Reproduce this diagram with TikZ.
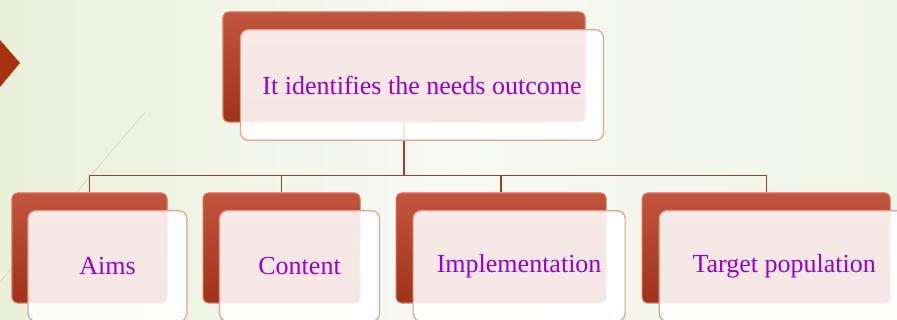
\documentclass[tikz,border=0pt]{standalone}
\usepackage{fontspec}
\setmainfont{Liberation Serif}
\usetikzlibrary{positioning}
\definecolor{boxtop}{HTML}{C2553F}
\definecolor{boxbottom}{HTML}{A0321A}
\definecolor{boxedge}{HTML}{D9705C}
\definecolor{frontedge}{HTML}{DFA292}
\definecolor{linkred}{HTML}{A43C26}
\definecolor{labelpurple}{HTML}{9A00C6}
\definecolor{bgleft}{HTML}{EAF0DA}
\definecolor{bgmid}{HTML}{F8F9F4}
\definecolor{bgright}{HTML}{F1F5E7}
\definecolor{arrowred}{HTML}{A8320F}
\definecolor{streak}{HTML}{D6DBC6}
\tikzset{
	backbox/.style={rounded corners=4pt, draw=boxedge, line width=0.8pt, top color=boxtop, bottom color=boxbottom, minimum height=82.5pt, inner sep=0pt},
	frontbox/.style={rounded corners=6pt, draw=frontedge, line width=0.9pt, fill=white, fill opacity=0.88, text opacity=1, text=labelpurple, minimum height=83pt, inner sep=0pt, font=\fontsize{19.5}{22}\selectfont},
	link/.style={draw=linkred, line width=1pt}
}

\begin{document}
\begin{tikzpicture}[x=0.75pt, y=-0.75pt]
	\useasboundingbox (0,0) rectangle (897,320);
	\clip (0,0) rectangle (897,320);
	%slide background
	\shade[left color=bgleft, right color=bgright, middle color=bgmid] (0,0) rectangle (897,320);
	\fill[arrowred] (0,40) -- (20,63) -- (0,87) -- cycle;
	\draw[streak, line width=0.6pt] (145,112) -- (0,282);

	%red boxes behind
	\node[backbox, minimum width=271.5pt] (outcome) at (404,67) {};
	\node[backbox, minimum width=116.25pt] (aims) at (89.5,248) {};
	\node[backbox, minimum width=117.75pt, right=26.25pt of aims] (content) {};
	\node[backbox, minimum width=157.5pt, right=26.25pt of content] (impl) {};
	\node[backbox, minimum width=186pt, right=26.25pt of impl] (target) {};

	%tree lines
	\draw[link, line width=1.8pt] (outcome.south) -- ++(0,53) coordinate (split);
	\foreach \n in {aims, content, impl, target}
		\draw[link] (split) -| (\n.north);

	%labels on the light boxes
	\foreach \n/\w/\t in {outcome/272.25pt/It identifies the needs outcome, aims/119.25pt/Aims, content/120pt/Content, impl/159pt/Implementation, target/187.5pt/Target population}
		\node[frontbox, minimum width=\w] (\n-f) at ([shift={(18,18)}]\n.center) {\t};
\end{tikzpicture}
\end{document}
